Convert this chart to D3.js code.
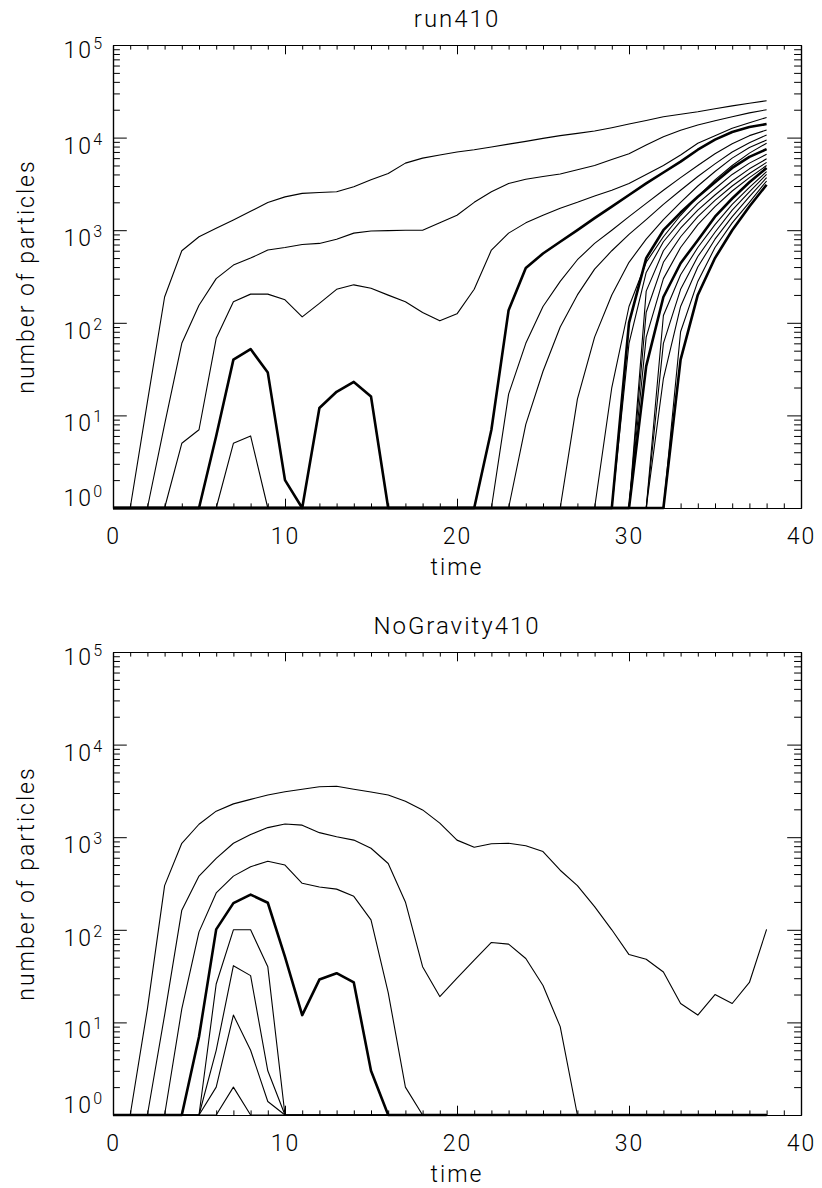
<!DOCTYPE html>
<html>
<head>
<meta charset="utf-8">
<script src="https://cdn.jsdelivr.net/npm/d3@7"></script>
<style>
  body { margin: 0; background: #fff; }
  svg text { font-family: Roboto, "DejaVu Sans", sans-serif; font-weight: 300; fill: #000; letter-spacing: 2px; }
</style>
</head>
<body>
<svg id="chart" width="822" height="1188"></svg>
<script>
// time steps 0..38
const times = d3.range(0, 39);

// run410: number of particles per curve, one value per time step (0 = none)
const run410 = [
  [0,0,14,190,600,850,1050,1290,1600,1990,2290,2500,2550,2600,2950,3500,4100,5300,6000,6500,7000,7400,7900,8500,9100,9800,10500,11100,11800,12800,14000,15300,16800,17900,19000,20500,22000,23500,25000],
  [0,0,0,8,60,155,300,420,500,610,650,700,720,800,930,980,990,1000,1000,1200,1450,2000,2600,3200,3550,3800,4050,4500,5000,5800,6700,8300,10200,12000,13700,15200,16800,18500,20000],
  [0,0,0,0,5,7,68,169,204,204,177,116,162,230,257,236,199,169,129,105,125,230,610,930,1200,1450,1730,2000,2340,2700,3200,4000,5000,6500,8700,10500,12600,14500,16500],
  [0,0,0,0,0,0,6,40,52,29,2,0,12,18,23,16,0,0,0,0,0,0,7,137,390,560,750,1000,1350,1800,2400,3200,4200,5500,7400,9500,11500,13000,14000],
  [0,0,0,0,0,0,0,5,6,0,0,0,0,0,0,0,0,0,0,0,0,0,0,17,60,150,280,480,720,1000,1400,1950,2700,3700,5000,6700,8600,10500,12100],
  [0,0,0,0,0,0,0,0,0,0,0,0,0,0,0,0,0,0,0,0,0,0,0,0,8,30,90,200,380,600,900,1300,1900,2700,3800,5200,7000,8800,10700],
  [0,0,0,0,0,0,0,0,0,0,0,0,0,0,0,0,0,0,0,0,0,0,0,0,0,0,0,15,70,200,450,800,1300,2000,3000,4300,6000,7800,9400],
  [0,0,0,0,0,0,0,0,0,0,0,0,0,0,0,0,0,0,0,0,0,0,0,0,0,0,0,0,0,20,150,450,850,1450,2300,3500,5000,6800,8700],
  [0,0,0,0,0,0,0,0,0,0,0,0,0,0,0,0,0,0,0,0,0,0,0,0,0,0,0,0,0,0,100,500,1000,1550,2300,3300,4700,6200,7500],
  [0,0,0,0,0,0,0,0,0,0,0,0,0,0,0,0,0,0,0,0,0,0,0,0,0,0,0,0,0,0,60,350,750,1250,1950,2800,4000,5300,6600],
  [0,0,0,0,0,0,0,0,0,0,0,0,0,0,0,0,0,0,0,0,0,0,0,0,0,0,0,0,0,0,0,220,600,1050,1650,2400,3400,4600,5900],
  [0,0,0,0,0,0,0,0,0,0,0,0,0,0,0,0,0,0,0,0,0,0,0,0,0,0,0,0,0,0,0,130,450,850,1400,2100,3000,4100,5400],
  [0,0,0,0,0,0,0,0,0,0,0,0,0,0,0,0,0,0,0,0,0,0,0,0,0,0,0,0,0,0,0,70,300,650,1150,1800,2650,3700,5000],
  [0,0,0,0,0,0,0,0,0,0,0,0,0,0,0,0,0,0,0,0,0,0,0,0,0,0,0,0,0,0,0,34,190,440,780,1400,2200,3300,4700],
  [0,0,0,0,0,0,0,0,0,0,0,0,0,0,0,0,0,0,0,0,0,0,0,0,0,0,0,0,0,0,0,0,120,330,650,1150,1900,2900,4300],
  [0,0,0,0,0,0,0,0,0,0,0,0,0,0,0,0,0,0,0,0,0,0,0,0,0,0,0,0,0,0,0,0,60,230,520,950,1650,2600,4000],
  [0,0,0,0,0,0,0,0,0,0,0,0,0,0,0,0,0,0,0,0,0,0,0,0,0,0,0,0,0,0,0,0,25,150,400,800,1400,2300,3700],
  [0,0,0,0,0,0,0,0,0,0,0,0,0,0,0,0,0,0,0,0,0,0,0,0,0,0,0,0,0,0,0,0,0,80,280,650,1200,2000,3400],
  [0,0,0,0,0,0,0,0,0,0,0,0,0,0,0,0,0,0,0,0,0,0,0,0,0,0,0,0,0,0,0,0,0,40,200,500,1000,1800,3100]
];

// NoGravity410
const noGravity410 = [
  [0,0,14,300,860,1380,1910,2290,2560,2860,3100,3300,3500,3550,3300,3080,2850,2450,1970,1420,930,780,850,860,810,700,440,300,178,100,54,48,35,16,12,20,16,27,101],
  [0,0,0,12,163,380,590,860,1070,1270,1390,1350,1120,1010,930,760,520,200,40,19,30,47,73,70,49,25,9,0,0,0,0,0,0,0,0,0,0,0,0],
  [0,0,0,0,14,95,250,380,480,550,500,318,290,275,230,128,21,2,0,0,0,0,0,0,0,0,0,0,0,0,0,0,0,0,0,0,0,0,0],
  [0,0,0,0,0,7,101,194,240,196,51,12,29,34,27,3,0,0,0,0,0,0,0,0,0,0,0,0,0,0,0,0,0,0,0,0,0,0,0],
  [0,0,0,0,0,0,26,100,100,40,0,0,0,0,0,0,0,0,0,0,0,0,0,0,0,0,0,0,0,0,0,0,0,0,0,0,0,0,0],
  [0,0,0,0,0,0,5,41,32,3,0,0,0,0,0,0,0,0,0,0,0,0,0,0,0,0,0,0,0,0,0,0,0,0,0,0,0,0,0],
  [0,0,0,0,0,0,2,12,5,1.4,0,0,0,0,0,0,0,0,0,0,0,0,0,0,0,0,0,0,0,0,0,0,0,0,0,0,0,0,0],
  [0,0,0,0,0,0,0,2,0,0,0,0,0,0,0,0,0,0,0,0,0,0,0,0,0,0,0,0,0,0,0,0,0,0,0,0,0,0,0]
];

// every fifth curve (index 3, 8, 13, 18) is drawn thick
const thickCurves = [3, 8, 13, 18];

const xMajorTicks = [0, 10, 20, 30, 40];
const yExponents = [0, 1, 2, 3, 4, 5];

const panels = [
  { title: "run410", data: run410, top: 45 },
  { title: "NoGravity410", data: noGravity410, top: 652 }
];

const svg = d3.select("#chart");
const left = 113, right = 801, plotH = 463;

const x = d3.scaleLinear().domain([0, 40]).range([left, right]);

panels.forEach((p) => {
  const y = d3.scaleLog().domain([1, 1e5]).range([p.top + plotH, p.top]).clamp(true);
  const bottom = p.top + plotH;
  const g = svg.append("g");

  const minorY = [];
  d3.range(0, 5).forEach((e) => d3.range(2, 10).forEach((m) => minorY.push(m * Math.pow(10, e))));

  // x axes (ticks pointing inwards)
  g.append("g").attr("transform", "translate(0," + bottom + ")")
    .call(d3.axisBottom(x).tickValues(d3.range(0, 41)).tickSize(-4.6).tickSizeOuter(0).tickFormat(""));
  g.append("g").attr("transform", "translate(0," + bottom + ")")
    .call(d3.axisBottom(x).tickValues(xMajorTicks).tickSize(-9.3).tickSizeOuter(0).tickPadding(20).tickFormat(d3.format("d")));
  g.append("g").attr("transform", "translate(0," + p.top + ")")
    .call(d3.axisTop(x).tickValues(d3.range(0, 41)).tickSize(-4.6).tickSizeOuter(0).tickFormat(""));
  g.append("g").attr("transform", "translate(0," + p.top + ")")
    .call(d3.axisTop(x).tickValues(xMajorTicks).tickSize(-9.3).tickSizeOuter(0).tickFormat(""));

  // y axes
  const majY = yExponents.map((e) => Math.pow(10, e));
  g.append("g").attr("transform", "translate(" + left + ",0)")
    .call(d3.axisLeft(y).tickValues(minorY).tickSize(-6.9).tickSizeOuter(0).tickFormat(""));
  g.append("g").attr("transform", "translate(" + left + ",0)")
    .call(d3.axisLeft(y).tickValues(majY).tickSize(-13.8).tickSizeOuter(0).tickFormat(""));
  g.append("g").attr("transform", "translate(" + right + ",0)")
    .call(d3.axisRight(y).tickValues(minorY).tickSize(-6.9).tickSizeOuter(0).tickFormat(""));
  g.append("g").attr("transform", "translate(" + right + ",0)")
    .call(d3.axisRight(y).tickValues(majY).tickSize(-13.8).tickSizeOuter(0).tickFormat(""));

  g.selectAll(".domain").attr("stroke", "#000").attr("stroke-width", 1.2);
  g.selectAll(".tick line").attr("stroke", "#000").attr("stroke-width", 1);
  g.selectAll(".tick text").attr("font-size", 23).attr("fill", "#000")
    .attr("font-family", 'Roboto, "DejaVu Sans", sans-serif');

  // y tick labels 10^n
  yExponents.forEach((e) => {
    let dy = 10;
    if (e === 0) dy = -8;
    if (e === 5) dy = 7;
    const t = g.append("text").attr("x", left - 9).attr("y", y(Math.pow(10, e)) + dy)
      .attr("text-anchor", "end").attr("dominant-baseline", "middle").attr("font-size", 23);
    t.append("tspan").text("10");
    t.append("tspan").attr("font-size", 16).attr("dy", -7).text(e);
  });

  // lines
  const line = d3.line().x((d, i) => x(times[i])).y((d) => y(Math.max(d, 1)));
  p.data.forEach((series, i) => {
    g.append("path").datum(series)
      .attr("fill", "none").attr("stroke", "#000")
      .attr("stroke-width", thickCurves.includes(i) ? 2.6 : 1.1)
      .attr("stroke-linejoin", "round")
      .attr("d", line);
  });

  // titles
  g.append("text").attr("x", (left + right) / 2).attr("y", p.top - 18)
    .attr("text-anchor", "middle").attr("font-size", 24).text(p.title);
  g.append("text").attr("x", (left + right) / 2).attr("y", bottom + 67)
    .attr("text-anchor", "middle").attr("font-size", 23).text("time");
  g.append("text").attr("transform", "translate(34," + (p.top + plotH / 2) + ") rotate(-90)")
    .attr("text-anchor", "middle").attr("font-size", 23).text("number of particles");
});
</script>
</body>
</html>
